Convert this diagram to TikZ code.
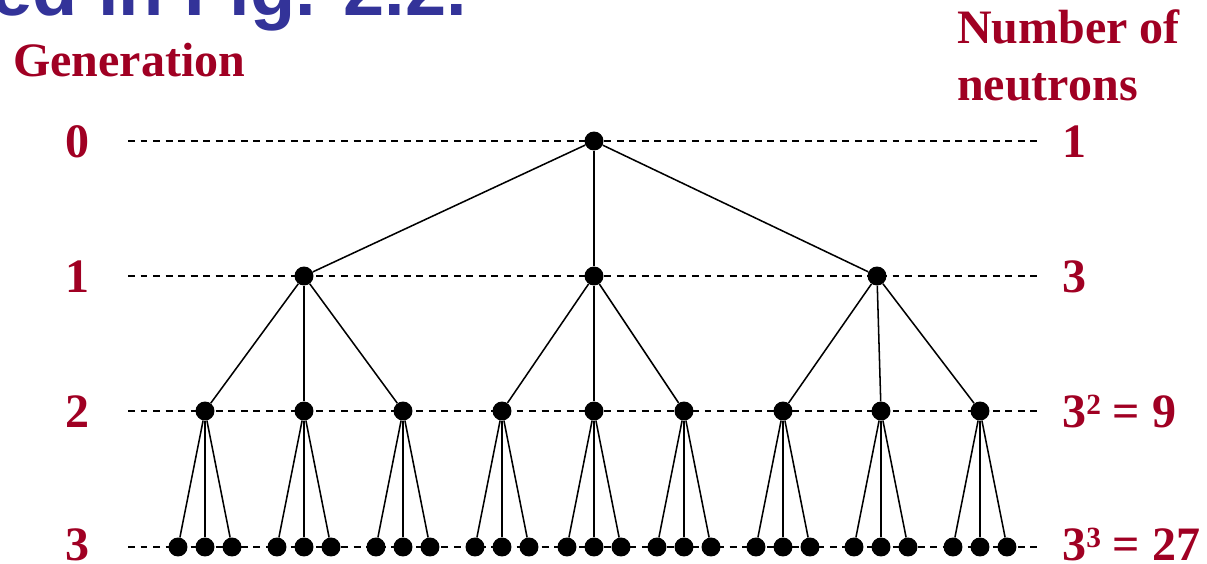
\documentclass[tikz,border=0pt]{standalone}
\usepackage{fontspec}
\setmainfont{Liberation Serif}
\newfontfamily\titlefont{Liberation Sans}
\usetikzlibrary{positioning}
\definecolor{titleblue}{RGB}{51,51,153}
\definecolor{genred}{RGB}{160,0,35}

% power label: base with raised small exponent
\newcommand{\powlbl}[2]{#1\raisebox{9.5pt}{\fontsize{22}{22}\selectfont #2}}

\tikzset{
  neutron/.style={circle, fill=black, inner sep=0pt, minimum size=14.2pt},
  branch/.style={black, line width=1.15pt},
  genline/.style={black, line width=0.9pt, dash pattern=on 5.2pt off 4.2pt},
  redlbl/.style={text=genred, inner sep=0pt, font=\fontsize{36}{43}\selectfont\bfseries}
}

\begin{document}
\begin{tikzpicture}[x=0.75pt, y=-0.75pt]

\clip (0,0) rectangle (1207,564);

% ── Title remnant (cut off at the top) ───────────────────────────────────────
\node[anchor=base west, inner sep=0pt, text=titleblue,
      font=\titlefont\fontsize{55.5}{58}\selectfont\bfseries] (title) at (-9,15) {ed in Fig. 2.2.};

% ── Column headings ──────────────────────────────────────────────────────────
\node[redlbl, anchor=base west] (genhead) at (13,76) {Generation};
\node[redlbl, anchor=base west] (numhead) at (957,43) {Number of};
\node[redlbl, anchor=base west] (neuhead) at (957,100) {neutrons};

% ── Generation rows: dashed guide, generation number, neutron count ─────────
\foreach \g/\y/\b/\cnt in {0/141/157/1, 1/276/292/3,
                           2/411/427/\powlbl{3}{2} = 9, 3/547/560/\powlbl{3}{3} = 27}{
  \draw[genline] (128,\y) -- (1040,\y);
  \node[redlbl, anchor=base] (gen\g) at (77,\b) {\g};
  \node[redlbl, anchor=base west] (cnt\g) at (1062,\b) {\cnt};
}

% ════════════════════════════════════════════════════════════════════════════
% CHAIN REACTION TREE
% ════════════════════════════════════════════════════════════════════════════

% generation 0
\node[neutron] (g0) at (594,141) {};

% generation 1
\foreach \x [count=\i] in {304,594,877}{
  \node[neutron] (g1-\i) at (\x,276) {};
  \draw[branch] (g0) -- (g1-\i);
}

% generation 2
\foreach \x [count=\i] in {205,304,403,502,594,684,783,881,980}{
  \pgfmathtruncatemacro{\p}{(\i+2)/3}
  \node[neutron] (g2-\i) at (\x,411) {};
  \draw[branch] (g1-\p) -- (g2-\i);
}

% generation 3 -- three neutrons below every generation-2 neutron
\foreach \i in {1,...,9}{
  \foreach \d [count=\k] in {-27,0,27}{
    \path (g2-\i) ++(\d,136) node[neutron] (g3-\i-\k) {};
    \draw[branch] (g2-\i) -- (g3-\i-\k);
  }
}

\end{tikzpicture}
\end{document}
